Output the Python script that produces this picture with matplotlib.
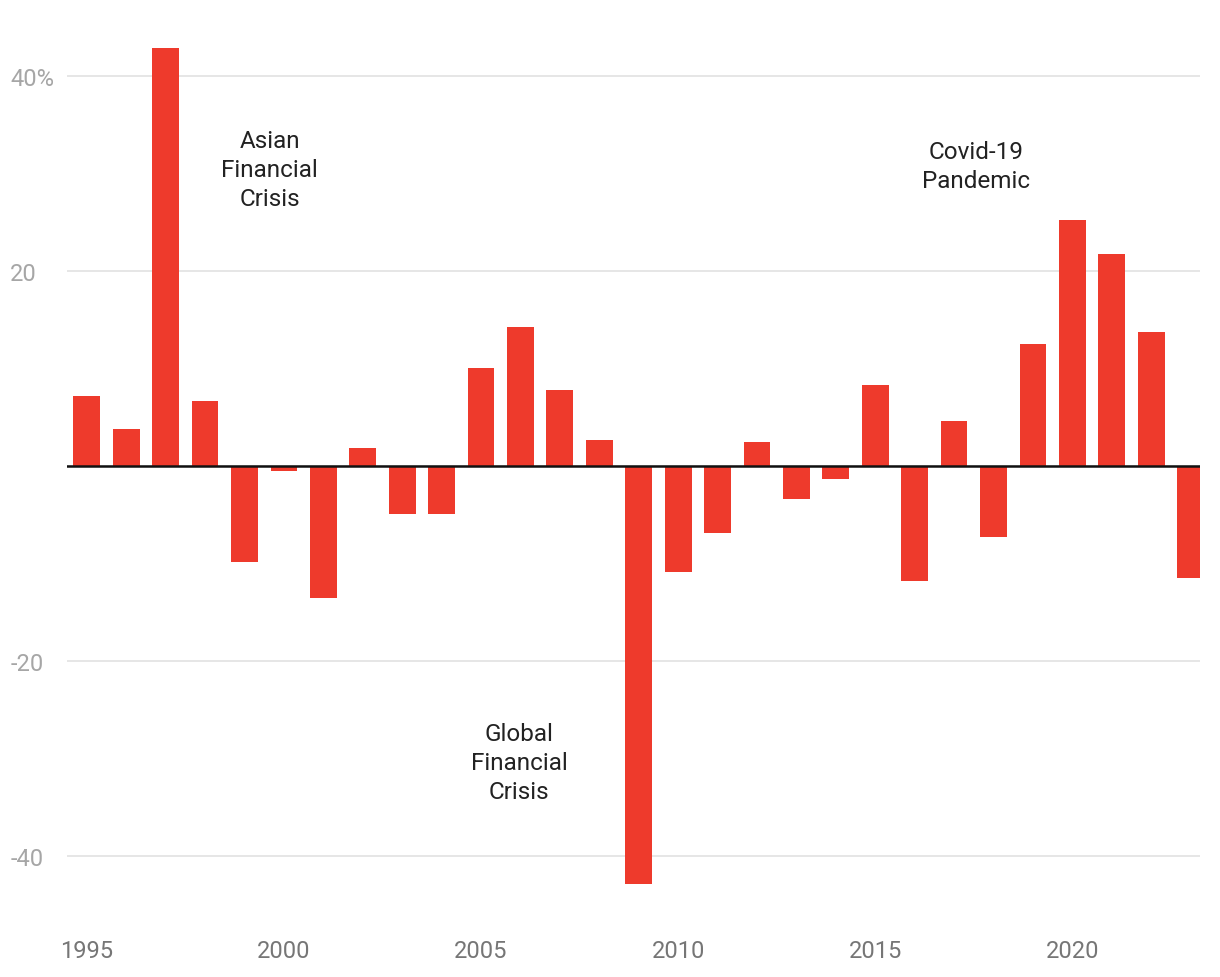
import matplotlib.pyplot as plt

plt.rcParams['font.family'] = ['Roboto', 'DejaVu Sans']

years = list(range(1995, 2024))
returns = [7.2, 3.8, 42.9, 6.7, -9.9, -0.5, -13.5, 1.8, -4.9, -4.9,
           10.1, 14.3, 7.8, 2.7, -42.9, -10.9, -6.9, 2.5, -3.4, -1.3,
           8.3, -11.8, 4.6, -7.3, 12.5, 25.2, 21.8, 13.7, -11.5]

y_ticks = [40, 20, 0, -20, -40]
y_labels = ["40%", "20", "", "-20", "-40"]
x_ticks = [1995, 2000, 2005, 2010, 2015, 2020]

notes = ["Asian\nFinancial\nCrisis", "Global\nFinancial\nCrisis", "Covid-19\nPandemic"]
note_x = [1999.64, 2005.96, 2017.56]
note_y = [30.4, -30.4, 30.8]

fig = plt.figure(figsize=(12.2, 9.78), dpi=100)
ax = fig.add_axes([0.055, 0.089, 0.929, 0.869])

ax.bar(years, returns, width=0.68, color="#ee3a2c", zorder=2)
ax.axhline(0, color="#111111", lw=1.8, zorder=3)

ax.set_xlim(1994.5, 2023.25)
ax.set_ylim(-43.5, 43.7)
ax.set_yticks(y_ticks)
ax.set_yticklabels(y_labels)
ax.set_xticks(x_ticks)
ax.grid(axis="y", color="#e2e2e2", lw=1.2, zorder=0)

for s in ax.spines.values():
    s.set_visible(False)
ax.tick_params(axis="both", length=0)
ax.tick_params(axis="y", labelsize=17, labelcolor="#a6a6a6", pad=41)
ax.tick_params(axis="x", labelsize=17, labelcolor="#767676", pad=35)
for lbl in ax.get_yticklabels():
    lbl.set_horizontalalignment("left")

for txt, x, y in zip(notes, note_x, note_y):
    ax.text(x, y, txt, ha="center", va="center", fontsize=17.5,
            color="#222222", linespacing=1.33)

fig.savefig("out.png", dpi=100)
